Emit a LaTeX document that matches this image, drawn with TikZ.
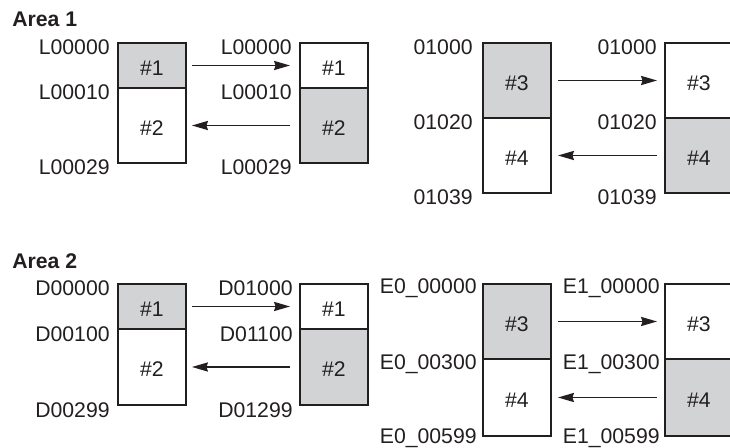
\documentclass[tikz,border=0pt]{standalone}
\usepackage{fontspec}
\setmainfont{Liberation Sans}
\usetikzlibrary{arrows.meta,positioning}
\definecolor{ink}{HTML}{231F20}
\definecolor{shade}{HTML}{D2D3D5}

\begin{document}
\begin{tikzpicture}[x=0.5pt,y=-0.5pt,>={Stealth[length=8pt,width=4.6pt,inset=0.8pt]},
 font=\fontsize{10.6}{12.6}\selectfont,
 cell/.style={draw=ink,line width=0.7pt,outer sep=0pt,inner sep=0pt,minimum width=34pt,text=ink,text height=10pt,text depth=0pt},
 short/.style={cell,minimum height=22.5pt},
 tall/.style={cell,minimum height=37.5pt},
 used/.style={fill=shade},
 addr/.style={anchor=east,inner sep=0pt,text=ink},
 title/.style={anchor=base west,inner sep=0pt,text=ink,font=\fontsize{10.6}{12.6}\selectfont\bfseries},
 move/.style={->,draw=ink,line width=0.65pt}]
\useasboundingbox (0,0) rectangle (730,448);

% Area 1
\node[title] (area1) at (12,27) {Area 1};
\node[short,used,anchor=north west] (a1) at (118,43) {\#1};
\node[tall,below=0pt of a1] (a2) {\#2};
\node[short,anchor=north west] (b1) at (300,43) {\#1};
\node[tall,used,below=0pt of b1] (b2) {\#2};
\node[tall,used,anchor=north west] (c1) at (483,43) {\#3};
\node[tall,below=0pt of c1] (c2) {\#4};
\node[tall,anchor=north west] (d1) at (665,43) {\#3};
\node[tall,used,below=0pt of d1] (d2) {\#4};

\node[addr] (la0) at ([xshift=-4pt,yshift=-2.2pt]a1.north west) {L00000};
\node[addr] (la1) at ([xshift=-4pt,yshift=-2.2pt]a2.north west) {L00010};
\node[addr] (la2) at ([xshift=-4pt,yshift=-2.2pt]a2.south west) {L00029};
\node[addr] (lb0) at ([xshift=-4pt,yshift=-2.2pt]b1.north west) {L00000};
\node[addr] (lb1) at ([xshift=-4pt,yshift=-2.2pt]b2.north west) {L00010};
\node[addr] (lb2) at ([xshift=-4pt,yshift=-2.2pt]b2.south west) {L00029};
\node[addr] (lc0) at ([xshift=-5pt,yshift=-2.2pt]c1.north west) {01000};
\node[addr] (lc1) at ([xshift=-5pt,yshift=-2.2pt]c2.north west) {01020};
\node[addr] (lc2) at ([xshift=-5pt,yshift=-2.2pt]c2.south west) {01039};
\node[addr] (ld0) at ([xshift=-4pt,yshift=-2.2pt]d1.north west) {01000};
\node[addr] (ld1) at ([xshift=-4pt,yshift=-2.2pt]d2.north west) {01020};
\node[addr] (ld2) at ([xshift=-4pt,yshift=-2.2pt]d2.south west) {01039};

\draw[move,shorten <=3pt,shorten >=5pt] (a1) -- (b1);
\draw[move,shorten <=5pt,shorten >=3pt] (b2) -- (a2);
\draw[move,shorten <=3.5pt,shorten >=4pt] (c1) -- (d1);
\draw[move,shorten <=4pt,shorten >=3.5pt] (d2) -- (c2);

% Area 2
\node[title] (area2) at (12,269) {Area 2};
\node[short,used,anchor=north west] (e1) at (118,284) {\#1};
\node[tall,minimum height=38pt,below=0pt of e1] (e2) {\#2};
\node[short,anchor=north west] (f1) at (300,284) {\#1};
\node[tall,used,minimum height=38pt,below=0pt of f1] (f2) {\#2};
\node[tall,used,anchor=north west] (g1) at (483,284) {\#3};
\node[tall,minimum height=38.5pt,below=0pt of g1] (g2) {\#4};
\node[tall,anchor=north west] (h1) at (665,284) {\#3};
\node[tall,used,minimum height=38.5pt,below=0pt of h1] (h2) {\#4};

\node[addr] (le0) at ([xshift=-4pt,yshift=-2.2pt]e1.north west) {D00000};
\node[addr] (le1) at ([xshift=-4pt,yshift=-2.6pt]e2.north west) {D00100};
\node[addr] (le2) at ([xshift=-4pt,yshift=-2.4pt]e2.south west) {D00299};
\node[addr] (lf0) at ([xshift=-3.5pt,yshift=-2.2pt]f1.north west) {D01000};
\node[addr] (lf1) at ([xshift=-3.5pt,yshift=-2.6pt]f2.north west) {D01100};
\node[addr] (lf2) at ([xshift=-3.5pt,yshift=-2.4pt]f2.south west) {D01299};
\node[addr] (lg0) at ([xshift=-3pt,yshift=-2.2pt]g1.north west) {E0\_00000};
\node[addr] (lg1) at ([xshift=-3pt,yshift=-2.6pt]g2.north west) {E0\_00300};
\node[addr] (lg2) at ([xshift=-3pt,yshift=-1.2pt]g2.south west) {E0\_00599};
\node[addr] (lh0) at ([xshift=-2.5pt,yshift=-2.2pt]h1.north west) {E1\_00000};
\node[addr] (lh1) at ([xshift=-2.5pt,yshift=-2.6pt]h2.north west) {E1\_00300};
\node[addr] (lh2) at ([xshift=-2.5pt,yshift=-1.2pt]h2.south west) {E1\_00599};

\draw[move,shorten <=3pt,shorten >=5pt] (e1) -- (f1);
\draw[move,shorten <=5pt,shorten >=3pt] (f2) -- (e2);
\draw[move,shorten <=3.5pt,shorten >=4pt] (g1) -- (h1);
\draw[move,shorten <=4pt,shorten >=3.5pt] (h2) -- (g2);
\end{tikzpicture}
\end{document}
